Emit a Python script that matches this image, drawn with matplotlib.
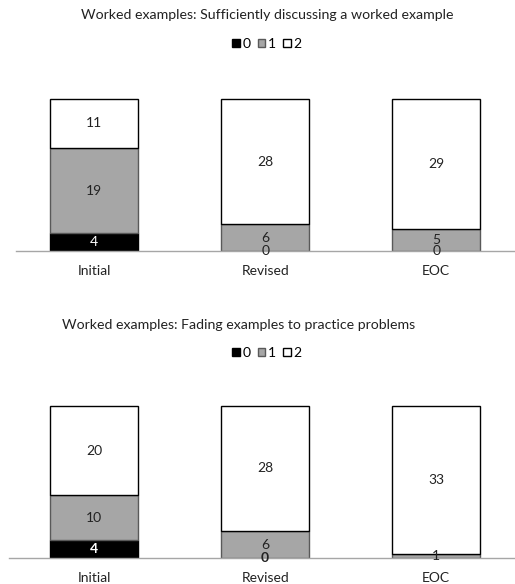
import matplotlib.pyplot as plt
from matplotlib.patches import Patch

plt.rcParams['font.family'] = ['Lato', 'DejaVu Sans']

categories = ['Initial', 'Revised', 'EOC']

# chart 1: Sufficiently discussing a worked example
top_0 = [4, 0, 0]
top_1 = [19, 6, 5]
top_2 = [11, 28, 29]

# chart 2: Fading examples to practice problems
bot_0 = [4, 0, 0]
bot_1 = [10, 6, 1]
bot_2 = [20, 28, 33]

title_top = 'Worked examples: Sufficiently discussing a worked example'
title_bot = 'Worked examples: Fading examples to practice problems'

colors = ['#000000', '#a6a6a6', '#ffffff']
edges = ['#000000', '#595959', '#000000']
W, H = 515, 584

fig = plt.figure(figsize=(W / 100, H / 100), dpi=100)


def draw(ax, s0, s1, s2, bold_black):
    x = range(len(categories))
    bottom = [0] * len(categories)
    for i, s in enumerate([s0, s1, s2]):
        ax.bar(x, s, 0.515, bottom=bottom, color=colors[i], edgecolor=edges[i], linewidth=1, zorder=2)
        for j, v in enumerate(s):
            y = bottom[j] + v / 2
            if v == 0 and i == 0 and s1[j] < 3:
                continue
            tc = 'white' if (i == 0 and v > 0) else '#222222'
            fw = 'bold' if (i == 0 and bold_black) else 'normal'
            ax.text(j, y, str(v), ha='center', va='center', fontsize=10, color=tc, fontweight=fw, zorder=3)
        bottom = [b + v for b, v in zip(bottom, s)]
    ax.set_ylim(0, 40)
    ax.set_xticks(list(x))
    ax.set_xticklabels(categories, fontsize=10, color='#222222')
    ax.tick_params(axis='x', length=0, pad=10)
    ax.set_yticks([])
    for sp in ['top', 'right', 'left']:
        ax.spines[sp].set_visible(False)
    ax.spines['bottom'].set_color('#a6a6a6')
    ax.spines['bottom'].set_linewidth(1)


ax1 = fig.add_axes([16 / W, (H - 251) / H, 499 / W, 179 / H])
draw(ax1, top_0, top_1, top_2, False)
ax1.set_xlim(-0.456, 2.46)

ax2 = fig.add_axes([9 / W, (H - 558) / H, 506 / W, 179 / H])
draw(ax2, bot_0, bot_1, bot_2, True)
ax2.set_xlim(-0.497, 2.46)

fig.text(267 / W, 1 - 15 / H, title_top, ha='center', va='center', fontsize=10.2, color='#222222')
fig.text(239 / W, 1 - 325 / H, title_bot, ha='center', va='center', fontsize=10.2, color='#222222')

handles = [Patch(facecolor=colors[i], edgecolor=edges[i] if i else '#000000', label=str(i)) for i in range(3)]
for yc in [44, 353]:
    fig.legend(handles=handles, loc='center', bbox_to_anchor=(267 / W, 1 - yc / H), ncol=3, frameon=False,
               handlelength=0.55, handleheight=0.55, handletextpad=0.2, columnspacing=0.5, fontsize=10)

fig.savefig('out.png', dpi=100)
